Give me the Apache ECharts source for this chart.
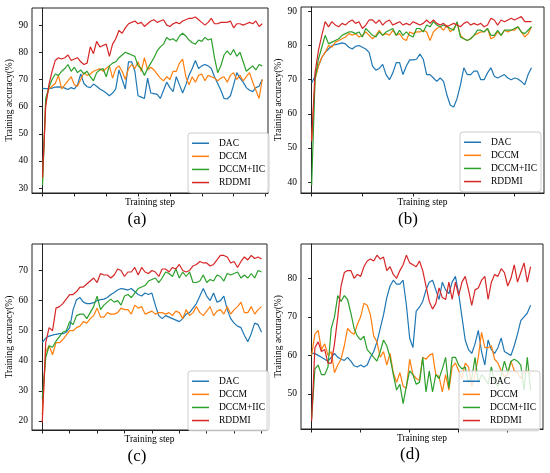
<!DOCTYPE html>
<html>
<head>
<meta charset="utf-8">
<script src="https://cdn.jsdelivr.net/npm/echarts@6/dist/echarts.min.js"></script>
<style>
  html, body { margin: 0; padding: 0; background: #fff; }
  #chart { width: 550px; height: 473px; }
</style>
</head>
<body>
<div id="chart"></div>
<script>
const names = ['DAC', 'DCCM', 'DCCM+IIC', 'RDDMI']
const colors = ['#1f77b4', '#ff7f0e', '#2ca02c', '#d62728']
const panelLabels = ['(a)', '(b)', '(c)', '(d)']

// (a)
const dacA = [66.7,66.6,66.6,66.8,67.2,67.3,67.2,66.8,66.3,67,66.5,68,72,68.5,67.3,67,68.3,67.5,66.5,65.8,65,64,65,66.5,73.5,70,66.5,76.5,76.5,73,64,63.5,63,70.5,65,64.8,64.5,63,66,69,67,65.5,71,68,65,68,71.5,74,77,74,75,75.5,75,74,71,68.5,66,63,62.8,64,68,72.5,70.5,69,67,66,65.5,67,67.5,70]
const dccmA = [33,62,66.5,67.5,68.5,71.5,66.5,68,69.5,71,68,67.5,70,72.5,71.5,72,73,73.5,74,73,74,75,70.5,74,75,73,70,74,75.5,74,76.5,73,78,73.5,74.5,73.5,72,70.5,69.5,71,70,73,73,76,77.5,71,68,71,69,71.5,72,69.5,71.5,71,70.5,69.5,70.5,71,69,71.5,72.5,70,71.5,69.5,71,72.5,69,66,63,70]
const iicA = [31,63,67,70,72,71.5,73,74,75.5,73,74.5,72.5,73.5,72,73,71,69.5,72.5,73.5,74,71,75,76,76.5,78,79,80,79.5,79,78.5,75,74,71.5,74,76,78,80.5,82,83,85.5,84.5,85,84,86,87,86,84.5,83.5,83,84.5,84,85.5,84.5,85,78,72.5,75,79,80.5,79,81,78.5,80,76.5,73,74,75,73.5,75.5,75]
const rddmiA = [34,60,68,73,77,78,77.5,78,79,77,77.5,78,76.5,75.5,76,82,79.5,84,82,82.5,83,78.5,83,85,88,87,89,90.5,91,91.5,90.5,91,89.5,90.5,91.5,92,91,91.5,92,90,89.5,90.5,91,90.5,91.5,92,92.5,92.5,93,92,91,90,91,92.5,90.5,90.5,91,91,91,91.5,89,90.5,90.5,90,90.5,91,90.5,91.5,89.5,90.5]

// (b)
const dacB = [69,71,74,76.5,78,79,80,80.3,80.5,80.8,80.5,79.5,79,79.8,80,79.5,79,78,74,72.8,73.3,74.5,71.5,70,72,75,75,71.5,74,75.8,75.8,76,77.5,76,71.5,71.5,70.5,69.5,70.5,69.5,65.5,62.5,62,64.5,68.5,73.5,71.5,71.5,72.5,72.5,70,70,72,73.5,71,70.5,71,71.5,70.5,70,70.5,70.2,69.5,68.5,71.5,73.5]
const dccmB = [52,70,74,76.5,78,80,79.5,81,81.5,82,82.5,83.5,83,83.5,82.5,83,84,83,82,83,84.5,83,83.5,83,84.5,83,83.5,82,81.5,84,83.5,84,84,84.5,84,81.5,84,85,85.5,84.5,86,84,85,86.5,83,82,81.5,82,83,83.5,84,84,85,82,82.5,84,83,84.5,84,84.5,84.5,85.5,84,82.5,83.5,85.5]
const iicB = [39,70,76,79.5,83,80.5,81,81.5,82,83,83.5,84,84,83.5,84,82.5,85,84,83,82.5,84,83,84,84.5,85,83,84.5,83,84,83,82.5,85,85,84,86,85.5,87,86,85.5,86,85.5,85,84.5,87,82.5,82,81.5,82,83,84.5,84.5,84,85,83,83,84.5,83,84.5,84.5,84.5,85,85.5,84,83.5,84.5,85.5]
const rddmiB = [52,72,78.5,83,87,85.5,87,86,85.5,86.5,86,87,87.5,86.5,87,85,86,87.5,87.5,86.5,87.5,86,87,87.5,86,86.5,87,86,86.5,86,87,86.5,86,86.5,87.5,86.5,87.5,86.5,86,86.5,85.5,86,86.5,86,85.5,86.5,87,86,86.5,86,86.5,85.5,86,88,87.5,86,87.5,87,87.5,88,87.5,88,88.5,87,87,87]

// (c)
const dacC = [46,47.5,48.2,48.5,48.8,49,49,49.5,51,57,60.3,61,59.5,59,59,59.3,60,60.3,60.5,61,62,62.7,63.5,64,63.8,63.5,64,63,62,61.5,62.5,62,62.5,58.5,55,54,55,54.5,54,53.5,53,54,55.5,56,57.5,59,61.5,64,61.5,60,62.5,59.5,60,61.5,57,54,52.5,51.5,51,48.5,46.3,49,52.5,52,49.5]
const dccmC = [22,43,45,42,46,46,47,48.5,50,50,51,51.5,53,52.5,54,55,57.5,54.5,54.5,56,55.5,55.5,56,57.5,57,57,55.5,58.5,57.5,58,55.5,56,56.5,55.5,56,56,55.5,56,55,56.5,56,54,57,55,56,58,56,55,56.5,58,55,56.5,57,55.5,58,55.5,57,58,59.5,56,56,58,55.5,57,58]
const iicC = [27.5,41,45,44.5,46.5,48,49.5,50,53,52,55,55.5,55.5,54,56,58,61.5,57,58.5,59.5,60.5,59.5,60,58.5,61.5,62,61,62.5,64,64.5,65,66.5,67,67.5,66,67.5,69.5,69,68,70.5,67.5,69.5,68,69.5,66,66,66.5,68.5,66,67,66.5,68.5,68,66.5,69,68.5,69,69.5,67.5,68.5,67.5,69,67.5,70,69.5]
const rddmiC = [19.5,46,51,50,57.5,58,59,60.5,62,62,63,64.5,64.5,65.5,66.5,67.5,66,69,68.5,68.5,67.5,68.5,70.5,70,68,69.5,69.5,71,68.5,71,69.5,69,70,69.5,68,70.5,70.5,69.5,71,70.5,72,70,69.5,70,71.5,72,73,72.5,72.5,71.5,72,73.5,75,75,74.5,72.5,73,71,73,74.5,73.5,75,74,74.5,73.8]

// (d)
const dacD = [60.5,60.5,60,59.5,59,58.5,59.5,60.5,59.5,59,58.7,59.5,58.5,57.3,57,57.5,57,57.5,59.5,61,63.5,67,70.5,75,78,79.5,78.5,78.5,79.5,73,64.5,62,71.5,72.5,74,77,79,79.5,77,74.5,79,77,76,79,80.5,76,70,64,61.5,60.5,63,66.5,61,57.5,64,61.5,60.5,62,64.5,61,60.5,60,62.5,65.5,69,70,71,73]
const dccmD = [60,65.5,66.5,61.5,63,60,61,55.5,57.5,59,62.5,67,66,65.5,68,70,73.5,73,70.5,65,63.5,59.5,61,57.5,60.5,55.5,53,55.5,52,51.5,59,55,54,53.5,59.5,59,60,60.5,55,54.5,50.5,55,51,57,58,56,54,58,57,52,55,59.5,66,62,62,62.5,59,58,56,54.5,55,58.5,56,55.5,54,55.5,56,55]
const iicD = [43.5,56.5,57.5,55,55,57,67,70,75.5,74,75.5,74.5,71,67,65,64,65,61.5,60.5,59.5,58.5,61,64,62.5,59.5,55,51,52.5,47.5,52,56,55,52.5,53,59.5,50.5,56,50.5,55,54,56.5,59.5,51.5,59.5,59.5,57.5,56.5,57,53,54,59.5,53,55,54,52.5,57,53,52,55,58.5,55.5,58.5,59,58.5,57.5,51,59.5,51]
const rddmiD = [43,62,63.5,61,61.5,58,58,63,70,78,81.5,82,82,80,81,80.5,83,84.5,85,84.5,86,85,85.5,82,83,81,80,82,83.5,86,84,83.5,83,84.5,82,78,74,72,73.5,77.5,75,74.5,79,74.5,79,75.5,79,80.5,77,73,77,77.5,79.5,80.5,74.5,79,81,80.5,82.5,81.5,78,80,83.5,79,81.5,84,79,83]

// axis ticks
const yTicksA = [30, 40, 50, 60, 70, 80, 90]
const yTicksB = [40, 50, 60, 70, 80, 90]
const yTicksC = [20, 30, 40, 50, 60, 70]
const yTicksD = [50, 60, 70, 80]
const xTicksA = [0, 10, 20, 30, 40, 50, 60, 70]
const xTicksB = [0, 15, 30, 45, 60]
const xTicksC = [0, 8, 16, 24, 32, 40, 48, 56, 64]
const xTicksD = [0, 15, 30, 45, 60]

const panels = [
  { data: [dacA, dccmA, iicA, rddmiA], yTicks: yTicksA, xTicks: xTicksA,
    y: [28.2, 96.3], x: [-3.3, 70.8], grid: [32, 8, 236, 185], legend: [188, 133], label: [137, 220], nameGap: 18 },
  { data: [dacB, dccmB, iicB, rddmiB], yTicks: yTicksB, xTicks: xTicksB,
    y: [36.8, 91.3], x: [-3.15, 68.7], grid: [301, 7, 243, 186], legend: [460, 132], label: [408, 220], nameGap: 17 },
  { data: [dacC, dccmC, iicC, rddmiC], yTicks: yTicksC, xTicks: xTicksC,
    y: [17, 78.8], x: [-3.0, 65.6], grid: [32, 244, 235, 186], legend: [188, 371], label: [137, 457], nameGap: 15 },
  { data: [dacD, dccmD, iicD, rddmiD], yTicks: yTicksD, xTicks: xTicksD,
    y: [40.9, 88.9], x: [-3.25, 70.8], grid: [301, 244, 242, 185], legend: [459, 371], label: [410, 455], nameGap: 16 }
]

const font = 'Liberation Serif'
const axisColor = '#222'

const option = {
  animation: false,
  textStyle: { fontFamily: font },
  grid: [], xAxis: [], yAxis: [], legend: [], series: [], graphic: []
}

panels.forEach((p, k) => {
  option.grid.push({
    left: p.grid[0], top: p.grid[1], width: p.grid[2], height: p.grid[3],
    show: true, borderColor: axisColor, borderWidth: 1, backgroundColor: '#fff'
  })
  option.xAxis.push({
    type: 'value', gridIndex: k, min: p.x[0], max: p.x[1],
    name: 'Training step', nameLocation: 'middle', nameGap: 4,
    nameTextStyle: { fontFamily: font, fontSize: 9.5, color: '#000' },
    axisLine: { show: true, lineStyle: { color: axisColor, width: 1 } },
    axisTick: { show: true, length: 3.5, customValues: p.xTicks, lineStyle: { color: axisColor } },
    axisLabel: { show: false },
    splitLine: { show: false }
  })
  option.yAxis.push({
    type: 'value', gridIndex: k, min: p.y[0], max: p.y[1],
    name: 'Training accuracy(%)', nameLocation: 'middle', nameGap: p.nameGap, nameRotate: 90,
    nameTextStyle: { fontFamily: font, fontSize: 9.5, color: '#000' },
    axisLine: { show: true, lineStyle: { color: axisColor, width: 1 } },
    axisTick: { show: true, length: 3.5, customValues: p.yTicks, lineStyle: { color: axisColor } },
    axisLabel: { show: true, customValues: p.yTicks, margin: 4, fontFamily: font, fontSize: 9.5, color: '#000' },
    splitLine: { show: false }
  })
  option.legend.push({
    orient: 'vertical', left: p.legend[0], top: p.legend[1],
    data: names.map((n, s) => ({ name: n, icon: 'rect', itemStyle: { color: colors[s] } })),
    itemWidth: 17, itemHeight: 1.5, itemGap: 2.6,
    padding: [5, 4, 5, 4], backgroundColor: 'rgba(255,255,255,0.8)',
    borderColor: '#ccc', borderWidth: 1, borderRadius: 3,
    selectedMode: false,
    textStyle: { fontFamily: font, fontSize: 9.5, lineHeight: 10.5, color: '#000', padding: [0, 0, 0, 5] }
  })
  p.data.forEach((ys, s) => {
    option.series.push({
      name: names[s], type: 'line', xAxisIndex: k, yAxisIndex: k,
      data: ys.map((v, i) => [i, v]),
      symbol: 'none', color: colors[s],
      lineStyle: { width: 1.2, color: colors[s] }
    })
  })
  option.graphic.push({
    type: 'text', x: p.label[0], y: p.label[1],
    style: { text: panelLabels[k], font: '17px "Liberation Serif"', fill: '#000', align: 'center', verticalAlign: 'middle' }
  })
})

const chart = echarts.init(document.getElementById('chart'), null, { renderer: 'canvas' })
chart.setOption(option)
</script>
</body>
</html>
